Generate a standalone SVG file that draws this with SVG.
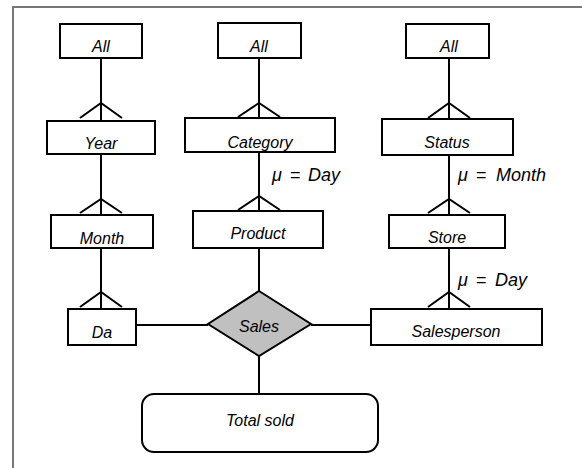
<svg xmlns="http://www.w3.org/2000/svg" width="582" height="468" viewBox="0 0 582 468">
<style>
.box{fill:#fff;stroke:#000;stroke-width:2}
.ln{fill:none;stroke:#000;stroke-width:2}
text{font-family:"Liberation Sans",Arial,sans-serif;font-style:italic;font-size:16px;fill:#000}
.c{text-anchor:middle}
.mu{font-size:18px}
.eq{font-style:normal}
</style>
<rect width="582" height="468" fill="#fff"/>
<path d="M13,468 V7 H582" fill="none" stroke="#777" stroke-width="2"/>
<g id="connectors" class="ln">
<path d="M101,58 V121 M80,118 L101,103 L122,118"/>
<path d="M101,154 V215 M80,213 L101,199 L122,213"/>
<path d="M101,248 V309 M80,307 L101,292 L122,307"/>
<path d="M259,58 V118 M238,117 L259,103 L280,117"/>
<path d="M259,152 V211 M238,210 L259,196 L280,210"/>
<path d="M449,58 V119 M428,118 L449,103 L470,118"/>
<path d="M449,155 V215 M428,213 L449,199 L470,213"/>
<path d="M449,248 V309 M428,307 L449,292 L470,307"/>
<path d="M259,248 V291"/>
<path d="M259,356 V394"/>
<path d="M136,325 H208"/>
<path d="M311,325 H371"/>
</g>
<g id="all1"><rect class="box" x="60" y="24" width="82" height="34"/><text class="c" x="101" y="52">All</text></g>
<g id="year"><rect class="box" x="47" y="121" width="108" height="33"/><text class="c" x="101" y="149">Year</text></g>
<g id="month"><rect class="box" x="51" y="215" width="102" height="33"/><text class="c" x="102" y="244">Month</text></g>
<g id="day"><rect class="box" x="68" y="309" width="68" height="36"/><text class="c" x="102" y="338">Da</text></g>
<g id="all2"><rect class="box" x="218" y="23" width="83" height="35"/><text class="c" x="259" y="52">All</text></g>
<g id="category"><rect class="box" x="185" y="118" width="150" height="34"/><text class="c" x="260" y="148">Category</text></g>
<g id="product"><rect class="box" x="193" y="211" width="130" height="37"/><text class="c" x="258" y="239">Product</text></g>
<g id="all3"><rect class="box" x="406" y="24" width="83" height="34"/><text class="c" x="449" y="52">All</text></g>
<g id="status"><rect class="box" x="382" y="119" width="131" height="36"/><text class="c" x="447" y="148">Status</text></g>
<g id="store"><rect class="box" x="389" y="215" width="116" height="33"/><text class="c" x="447" y="243">Store</text></g>
<g id="salesperson"><rect class="box" x="371" y="309" width="171" height="36"/><text class="c" x="456" y="337">Salesperson</text></g>
<g id="sales"><path d="M259,291 L311,324 L259,356 L208,324 Z" fill="#c0c0c0" stroke="#000" stroke-width="2"/><text class="c" x="259" y="332">Sales</text></g>
<g id="totalsold"><rect class="box" x="142" y="394" width="236" height="58" rx="12"/><text class="c" x="260" y="426">Total sold</text></g>
<g id="labels">
<text class="mu" y="181"><tspan x="272">μ</tspan><tspan class="eq" x="290">=</tspan><tspan x="308">Day</tspan></text>
<text class="mu" y="181"><tspan x="458">μ</tspan><tspan class="eq" x="476">=</tspan><tspan x="496">Month</tspan></text>
<text class="mu" y="286"><tspan x="458">μ</tspan><tspan class="eq" x="476">=</tspan><tspan x="495">Day</tspan></text>
</g>
</svg>
